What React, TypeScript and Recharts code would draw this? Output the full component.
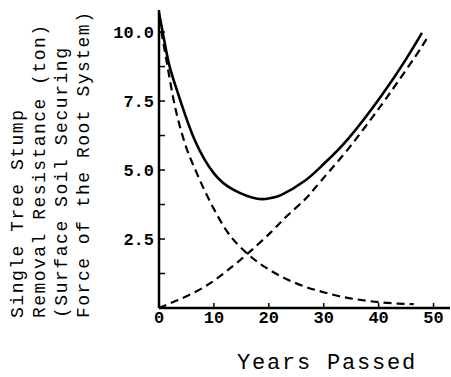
import React from 'react';
import { LineChart, Line, XAxis, YAxis } from 'recharts';

// values (years vs. tons)
const decayYears = [0, 1.6, 2.6, 4.5, 6.9, 9.7, 12.2, 16.2, 20.4, 23, 26.5, 30, 33, 36.5, 40.6, 43.5, 46.4];
const decayValues = [10.5, 8.7, 7.6, 6.1, 4.88, 3.7, 2.83, 1.95, 1.35, 1.07, 0.78, 0.57, 0.42, 0.3, 0.2, 0.16, 0.14];

const growthYears = [0, 3, 6.3, 9.5, 12.4, 16.2, 20.4, 23.4, 26.5, 28.3, 31, 34.4, 37.5, 40.6, 43.5, 46.7, 48.8];
const growthValues = [0, 0.25, 0.55, 0.92, 1.35, 1.98, 2.75, 3.35, 3.92, 4.32, 4.95, 5.75, 6.55, 7.38, 8.2, 9.12, 9.77];

const totalYears = [0, 1, 2, 3.85, 6.5, 10, 13.6, 17.9, 20.4, 22.2, 26.5, 30, 34.4, 40.6, 45, 47.9];
const totalValues = [10.7, 9.65, 8.7, 7.54, 6.09, 4.88, 4.28, 3.96, 3.99, 4.09, 4.6, 5.22, 6.12, 7.72, 9.02, 9.97];

const xTicks = [0, 10, 20, 30, 40, 50];
const yTicks = [0, 1.25, 2.5, 3.75, 5, 6.25, 7.5, 8.75, 10];
const yLabelLines = [
  'Single Tree Stump',
  'Removal Resistance (ton)',
  '(Surface Soil Securing',
  'Force of the Root System)',
];
const yLabelLengths = [208, 293, 270, 306];

const toPoints = (xs: number[], ys: number[]) => xs.map((year, i) => ({ year, value: ys[i] }));

const decayData = toPoints(decayYears, decayValues);
const growthData = toPoints(growthYears, growthValues);
const totalData = toPoints(totalYears, totalValues);

const MONO = '"Liberation Mono", "DejaVu Sans Mono", monospace';

const XTick = ({ x, y, payload }: any) => (
  <g>
    {payload.value > 0 && <line x1={x} y1={y} x2={x} y2={y - 5} stroke="#000" strokeWidth={1.5} />}
    <text x={x} y={y + 15} textAnchor="middle" fontFamily={MONO} fontWeight="bold" fontSize={17} fill="#000">
      {payload.value}
    </text>
  </g>
);

const YTick = ({ x, y, payload }: any) => {
  const v = payload.value;
  const labelled = v > 0 && v % 2.5 === 0;
  return (
    <g>
      {v > 0 && <line x1={x} y1={y} x2={x + 6} y2={y} stroke="#000" strokeWidth={1.5} />}
      {labelled && (
        <text x={x - 5} y={y + 6} textAnchor="end" fontFamily={MONO} fontWeight="bold" fontSize={17} fill="#000">
          {v.toFixed(1)}
        </text>
      )}
    </g>
  );
};

const App = () => {
  return (
    <div style={{ position: 'absolute', left: 0, top: 0, width: 451, height: 377, background: '#fff' }}>
      <LineChart width={451} height={377} margin={{ top: 10, right: 1, left: 110, bottom: 0 }}>
        <XAxis
          dataKey="year"
          type="number"
          domain={[0, 53]}
          ticks={xTicks}
          allowDuplicatedCategory={false}
          height={69}
          tickSize={0}
          tickMargin={0}
          tick={<XTick />}
          axisLine={{ stroke: '#000', strokeWidth: 2.5 }}
        />
        <YAxis
          type="number"
          domain={[0, 10.8]}
          ticks={yTicks}
          width={49}
          tickSize={0}
          tickMargin={0}
          tick={<YTick />}
          axisLine={{ stroke: '#000', strokeWidth: 2.5 }}
        />
        <Line data={decayData} dataKey="value" type="monotone" stroke="#000" strokeWidth={2.2} strokeDasharray="8 5" dot={false} isAnimationActive={false} />
        <Line data={growthData} dataKey="value" type="natural" stroke="#000" strokeWidth={2.2} strokeDasharray="8 5" dot={false} isAnimationActive={false} />
        <Line data={totalData} dataKey="value" type="natural" stroke="#000" strokeWidth={2.6} dot={false} isAnimationActive={false} />
      </LineChart>
      <svg width={451} height={377} style={{ position: 'absolute', left: 0, top: 0, pointerEvents: 'none' }}>
        {yLabelLines.map((line, i) => {
          const cx = 18 + i * 22;
          return (
            <text
              key={line}
              x={cx}
              y={318}
              transform={`rotate(-90 ${cx} 318)`}
              dominantBaseline="central"
              fontFamily={MONO}
              fontSize={18}
              textLength={yLabelLengths[i]}
              lengthAdjust="spacing"
              fill="#000"
            >
              {line}
            </text>
          );
        })}
        <text x={327} y={369} textAnchor="middle" fontFamily={MONO} fontSize={22} style={{ letterSpacing: '1.8px' }} fill="#000">
          Years Passed
        </text>
      </svg>
    </div>
  );
};

export default App;
